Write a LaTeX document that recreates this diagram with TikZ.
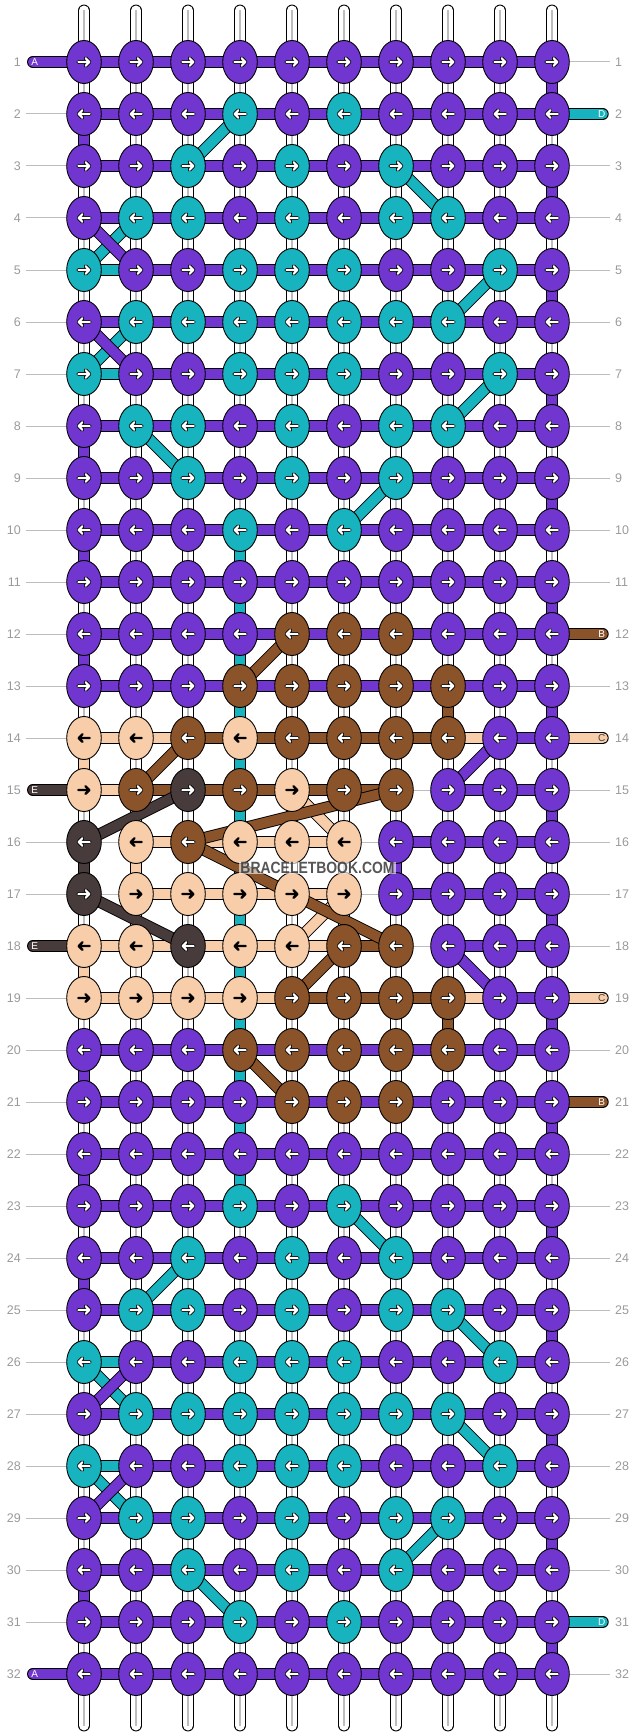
\documentclass[tikz,border=0pt]{standalone}
\usepackage{fontspec}
\setmainfont{Liberation Sans}
\usetikzlibrary{shapes.geometric}
\definecolor{cP}{HTML}{7136CF}
\definecolor{cC}{HTML}{17B3BE}
\definecolor{cB}{HTML}{8B5329}
\definecolor{cK}{HTML}{F8CDA9}
\definecolor{cD}{HTML}{473B3B}
\definecolor{cG}{HTML}{BDBDBD}
\definecolor{labgray}{HTML}{9A9A9A}
\pgfdeclarelayer{strandlayer}
\pgfdeclarelayer{linklayer}
\pgfsetlayers{strandlayer,linklayer,main}
\tikzset{
  knot/.style={ellipse, draw=black, line width=0.9pt, minimum width=34.6pt, minimum height=43pt, inner sep=0pt},
  seg/.style={draw=black, line width=0.9pt, double=#1, double distance=10pt},
  arrW/.style={draw=black, double=white, line width=0.9pt, double distance=2.1pt, line cap=round, line join=round},
  arrK/.style={draw=black, line width=2.4pt, line cap=round, line join=round},
  rowlab/.style={text=labgray, font=\fontsize{12.5}{12.5}\selectfont, inner sep=0pt},
  tablet/.style={font=\fontsize{10}{10}\selectfont, inner sep=0pt},
  grayline/.style={draw=cG, line width=1pt},
}
\def\kK{K}
\def\kG{G}
\newcommand\linkdraw[3]{\edef\lk{#1}\ifx\lk\kG\draw[grayline] (#2) -- (#3);\else\draw[seg=c\lk] (#2) -- (#3);\fi}
\newcommand\knotrow[2]{%
  \ifodd#1\relax\def\adir{1}\else\def\adir{-1}\fi
  \foreach \kk [count=\kc] in {#2}{%
    \node[knot, fill=c\kk] (n-#1-\kc) at ({84+52*(\kc-1)},{62+52*(#1-1)}) {};
    \begin{scope}[shift={(n-#1-\kc.center)}, xscale=\adir]
      \edef\kcur{\kk}%
      \ifx\kcur\kK
        \draw[arrK] (-5.7,0) -- (5.3,0) (1.5,-3.8) -- (5.3,0) -- (1.5,3.8);
      \else
        \draw[arrW] (-5.7,0) -- (5.3,0) (1.5,-3.8) -- (5.3,0) -- (1.5,3.8);
      \fi
    \end{scope}}}
\newcommand\hsegs[2]{%
  \foreach \kk [count=\kc] in {#2}{%
    \pgfmathtruncatemacro\kn{\kc+1}%
    \linkdraw{\kk}{n-#1-\kc.center}{n-#1-\kn.center}}}
\begin{document}
\begin{tikzpicture}[x=1pt,y=-1pt]
\path[use as bounding box] (0,0) rectangle (636,1736);
% knots
\knotrow{1}{P,P,P,P,P,P,P,P,P,P}
\knotrow{2}{P,P,P,C,P,C,P,P,P,P}
\knotrow{3}{P,P,C,P,C,P,C,P,P,P}
\knotrow{4}{P,C,C,P,C,P,C,C,P,P}
\knotrow{5}{C,P,P,C,C,C,P,P,C,P}
\knotrow{6}{P,C,C,C,C,C,C,C,P,P}
\knotrow{7}{C,P,P,C,C,C,P,P,C,P}
\knotrow{8}{P,C,C,P,C,P,C,C,P,P}
\knotrow{9}{P,P,C,P,C,P,C,P,P,P}
\knotrow{10}{P,P,P,C,P,C,P,P,P,P}
\knotrow{11}{P,P,P,P,P,P,P,P,P,P}
\knotrow{12}{P,P,P,P,B,B,B,P,P,P}
\knotrow{13}{P,P,P,B,B,B,B,B,P,P}
\knotrow{14}{K,K,B,K,B,B,B,B,P,P}
\knotrow{15}{K,B,D,B,K,B,B,P,P,P}
\knotrow{16}{D,K,B,K,K,K,P,P,P,P}
\knotrow{17}{D,K,K,K,K,K,P,P,P,P}
\knotrow{18}{K,K,D,K,K,B,B,P,P,P}
\knotrow{19}{K,K,K,K,B,B,B,B,P,P}
\knotrow{20}{P,P,P,B,B,B,B,B,P,P}
\knotrow{21}{P,P,P,P,B,B,B,P,P,P}
\knotrow{22}{P,P,P,P,P,P,P,P,P,P}
\knotrow{23}{P,P,P,C,P,C,P,P,P,P}
\knotrow{24}{P,P,C,P,C,P,C,P,P,P}
\knotrow{25}{P,C,C,P,C,P,C,C,P,P}
\knotrow{26}{C,P,P,C,C,C,P,P,C,P}
\knotrow{27}{P,C,C,C,C,C,C,C,P,P}
\knotrow{28}{C,P,P,C,C,C,P,P,C,P}
\knotrow{29}{P,C,C,P,C,P,C,C,P,P}
\knotrow{30}{P,P,C,P,C,P,C,P,P,P}
\knotrow{31}{P,P,P,C,P,C,P,P,P,P}
\knotrow{32}{P,P,P,P,P,P,P,P,P,P}
% row labels and anchor coordinates
\foreach \kr in {1,...,32}{%
  \pgfmathsetmacro\yy{62+52*(\kr-1)}
  \node[rowlab, anchor=east] (ll-\kr) at (21,\yy) {\kr};
  \node[rowlab, anchor=west] (lr-\kr) at (615,\yy) {\kr};
  \coordinate (gl-\kr) at (26,\yy);
  \coordinate (gr-\kr) at (610,\yy);
  \coordinate (tl-\kr) at (32.9,\yy);
  \coordinate (tr-\kr) at (602.8,\yy);
}
\foreach \kc in {1,...,10}{%
  \pgfmathsetmacro\xx{84+52*(\kc-1)}
  \coordinate (st-\kc) at (\xx,10.5);
  \coordinate (sb-\kc) at (\xx,1725.5);
}
% base strands
\begin{pgfonlayer}{strandlayer}
\foreach \kc in {1,...,10}{%
  \draw[seg=white, line cap=round] (st-\kc) -- (sb-\kc);
  \draw[draw=cG, line width=1.1pt] (st-\kc) -- (sb-\kc);
}
\end{pgfonlayer}
\begin{pgfonlayer}{linklayer}
% label lines
\foreach \kr in {2,3,4,5,6,7,8,9,10,11,12,13,14,16,17,19,20,21,22,23,24,25,26,27,28,29,30,31}
  {\draw[grayline] (gl-\kr) -- (n-\kr-1.center);}
\foreach \kr in {1,3,4,5,6,7,8,9,10,11,13,15,16,17,18,20,22,23,24,25,26,27,28,29,30,32}
  {\draw[grayline] (gr-\kr) -- (n-\kr-10.center);}
% tabs
\foreach \kr/\kk/\kl in {1/P/A,15/D/E,18/D/E,32/P/A}{%
  \draw[seg=c\kk, line cap=round] (tl-\kr) -- (n-\kr-1.center);
  \node[tablet, text=white] (tabl-\kr) at ([xshift=1.8pt]tl-\kr) {\kl};
}
\foreach \kr/\kk/\kl/\kt in {2/C/D/white,12/B/B/white,14/K/C/black!75,19/K/C/black!75,21/B/B/white,31/C/D/white}{%
  \draw[seg=c\kk, line cap=round] (tr-\kr) -- (n-\kr-10.center);
  \node[tablet, text=\kt] (tabr-\kr) at ([xshift=-1pt]tr-\kr) {\kl};
}
% horizontal segments
\foreach \kr in {1,2,3,4,6,8,9,10,11,12,13,20,21,22,23,24,25,27,29,30,31,32}
  {\hsegs{\kr}{P,P,P,P,P,P,P,P,P}}
\hsegs{5}{C,P,P,P,P,P,P,P,P}
\hsegs{7}{C,P,P,P,P,P,P,P,P}
\hsegs{26}{C,P,P,P,P,P,P,P,P}
\hsegs{28}{C,P,P,P,P,P,P,P,P}
\hsegs{14}{K,K,B,B,B,B,B,K,P}
\hsegs{15}{K,B,B,B,B,B,G,P,P}
\hsegs{16}{G,K,K,K,K,G,P,P,P}
\hsegs{17}{G,K,K,K,K,G,P,P,P}
\hsegs{18}{K,K,K,K,K,B,G,P,P}
\hsegs{19}{K,K,K,K,B,B,B,K,P}
% vertical segments
\foreach \kr in {1,3,...,31}{%
  \pgfmathtruncatemacro\kn{\kr+1}
  \draw[seg=cP] (n-\kr-10.center) -- (n-\kn-10.center);}
\foreach \kr/\kc/\kk in {2/1/P,8/1/P,10/1/P,12/1/P,14/1/K,16/1/D,18/1/K,20/1/P,22/1/P,24/1/P,30/1/P,
  16/2/K,16/7/P,13/8/B,19/8/B,
  10/4/C,11/4/C,12/4/C,13/4/C,14/4/C,15/4/C,16/4/C,17/4/C,18/4/C,19/4/C,20/4/C,21/4/C,22/4/C}{%
  \pgfmathtruncatemacro\kn{\kr+1}
  \linkdraw{\kk}{n-\kr-\kc.center}{n-\kn-\kc.center}}
% diagonal segments
\foreach \ra/\ca/\rb/\cb/\kk in {2/4/3/3/C,4/2/5/1/C,6/2/7/1/C,8/2/9/3/C,3/7/4/8/C,5/9/6/8/C,7/9/8/8/C,9/7/10/6/C,
  24/3/25/2/C,26/1/27/2/C,28/1/29/2/C,30/3/31/4/C,23/6/24/7/C,25/8/26/9/C,27/8/28/9/C,29/8/30/7/C,
  15/5/16/6/K,17/6/18/5/K,
  15/3/16/1/D,17/1/18/3/D,
  13/4/12/5/B,14/3/15/2/B,16/3/15/7/B,16/3/18/7/B,18/6/19/5/B,20/4/21/5/B,
  4/1/5/2/P,6/1/7/2/P,26/2/27/1/P,28/2/29/1/P,14/9/15/8/P,18/8/19/9/P}{%
  \linkdraw{\kk}{n-\ra-\ca.center}{n-\rb-\cb.center}}
\end{pgfonlayer}
% watermark
\node[fill=white, fill opacity=0.6, text opacity=0.85, text=black!78, inner sep=0pt,
  minimum width=157pt, minimum height=12.5pt, font=\bfseries\fontsize{16.3}{16.3}\selectfont]
  (wm) at (317.5,867.8) {\scalebox{0.855}[1]{BRACELETBOOK.COM}};
\end{tikzpicture}
\end{document}
